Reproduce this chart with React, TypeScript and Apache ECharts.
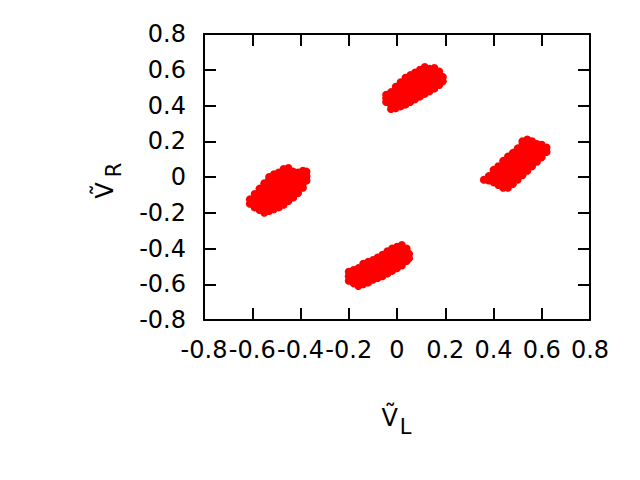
import React, { useEffect, useRef } from "react";
import * as echarts from "echarts";

// Each cluster: columns of [x, [y values]]
const clusterTop: [number, number[]][] = [
  [-0.045, [0.42, 0.44, 0.46]],
  [-0.025, [0.38, 0.405, 0.43, 0.455, 0.475]],
  [-0.005, [0.385, 0.41, 0.435, 0.46, 0.485, 0.505]],
  [0.015, [0.395, 0.42, 0.445, 0.47, 0.495, 0.52, 0.53]],
  [0.035, [0.405, 0.43, 0.455, 0.48, 0.505, 0.53, 0.555]],
  [0.055, [0.42, 0.445, 0.47, 0.495, 0.52, 0.545, 0.57]],
  [0.075, [0.435, 0.46, 0.485, 0.51, 0.535, 0.56, 0.585]],
  [0.095, [0.45, 0.475, 0.5, 0.525, 0.55, 0.575, 0.6]],
  [0.115, [0.465, 0.49, 0.515, 0.54, 0.565, 0.59, 0.615]],
  [0.135, [0.48, 0.505, 0.53, 0.555, 0.58, 0.605]],
  [0.155, [0.495, 0.52, 0.545, 0.57, 0.595, 0.61]],
  [0.175, [0.515, 0.54, 0.565, 0.59]],
  [0.19, [0.535, 0.56]],
];

const clusterRight: [number, number[]][] = [
  [0.36, [-0.015]],
  [0.38, [-0.02, 0.005]],
  [0.4, [-0.03, -0.005, 0.02, 0.04]],
  [0.42, [-0.045, -0.02, 0.005, 0.03, 0.06]],
  [0.44, [-0.06, -0.035, -0.01, 0.015, 0.04, 0.065, 0.09]],
  [0.46, [-0.06, -0.035, -0.01, 0.015, 0.04, 0.065, 0.09, 0.115]],
  [0.48, [-0.04, -0.015, 0.01, 0.035, 0.06, 0.085, 0.11, 0.135]],
  [0.5, [-0.015, 0.01, 0.035, 0.06, 0.085, 0.11, 0.135, 0.16]],
  [0.52, [0.01, 0.035, 0.06, 0.085, 0.11, 0.135, 0.16, 0.185, 0.2]],
  [0.54, [0.035, 0.06, 0.085, 0.11, 0.135, 0.16, 0.185, 0.21]],
  [0.56, [0.06, 0.085, 0.11, 0.135, 0.16, 0.185, 0.2]],
  [0.58, [0.085, 0.11, 0.135, 0.16, 0.185]],
  [0.6, [0.11, 0.135, 0.16, 0.18]],
  [0.62, [0.14, 0.165]],
];

const clusterLeft: [number, number[]][] = [
  [-0.61, [-0.15, -0.125]],
  [-0.59, [-0.17, -0.145, -0.12, -0.095]],
  [-0.57, [-0.185, -0.16, -0.135, -0.11, -0.085, -0.065]],
  [-0.55, [-0.2, -0.175, -0.15, -0.125, -0.1, -0.075, -0.05, -0.035]],
  [-0.53, [-0.19, -0.165, -0.14, -0.115, -0.09, -0.065, -0.04, -0.015, 0.0]],
  [-0.51, [-0.18, -0.155, -0.13, -0.105, -0.08, -0.055, -0.03, -0.005, 0.015]],
  [-0.49, [-0.17, -0.145, -0.12, -0.095, -0.07, -0.045, -0.02, 0.005, 0.025]],
  [-0.47, [-0.155, -0.13, -0.105, -0.08, -0.055, -0.03, -0.005, 0.02, 0.045]],
  [-0.45, [-0.135, -0.11, -0.085, -0.06, -0.035, -0.01, 0.015, 0.04, 0.05]],
  [-0.43, [-0.115, -0.09, -0.065, -0.04, -0.015, 0.01, 0.03]],
  [-0.41, [-0.09, -0.065, -0.04, -0.015, 0.01, 0.025]],
  [-0.39, [-0.06, -0.035, -0.01, 0.015, 0.035]],
  [-0.375, [-0.02, 0.005, 0.03]],
];

const clusterBottom: [number, number[]][] = [
  [-0.2, [-0.58, -0.555, -0.53]],
  [-0.18, [-0.595, -0.57, -0.545, -0.52]],
  [-0.16, [-0.61, -0.585, -0.56, -0.535, -0.51]],
  [-0.14, [-0.6, -0.575, -0.55, -0.525, -0.5, -0.485]],
  [-0.12, [-0.59, -0.565, -0.54, -0.515, -0.49, -0.475]],
  [-0.1, [-0.575, -0.55, -0.525, -0.5, -0.475, -0.465]],
  [-0.08, [-0.565, -0.54, -0.515, -0.49, -0.465, -0.45]],
  [-0.06, [-0.555, -0.53, -0.505, -0.48, -0.455, -0.435]],
  [-0.04, [-0.54, -0.515, -0.49, -0.465, -0.44, -0.415]],
  [-0.02, [-0.525, -0.5, -0.475, -0.45, -0.425, -0.4]],
  [0.0, [-0.51, -0.485, -0.46, -0.435, -0.41, -0.39]],
  [0.02, [-0.495, -0.47, -0.445, -0.42, -0.395, -0.38]],
  [0.04, [-0.47, -0.445, -0.42, -0.4]],
  [0.05, [-0.455, -0.43]],
];

const axisMin = -0.8;
const axisMax = 0.8;
const axisStep = 0.2;

const FONT = "DejaVu Sans";

function toPoints(cols: [number, number[]][]): number[][] {
  const out: number[][] = [];
  cols.forEach(([x, ys]) => ys.forEach((y) => out.push([x, y])));
  return out;
}

function fmt(v: number): string {
  if (Math.abs(v) < 1e-9) return "0";
  return v.toFixed(1);
}

export default function App() {
  const ref = useRef<HTMLDivElement>(null);
  useEffect(() => {
    if (!ref.current) return;
    const chart = echarts.init(ref.current, null, { renderer: "svg" });
    const lineStyle = { color: "#000", width: 2 };
    const tickCommon = { show: true, inside: true, length: 12, lineStyle };
    const data = [
      ...toPoints(clusterTop),
      ...toPoints(clusterRight),
      ...toPoints(clusterLeft),
      ...toPoints(clusterBottom),
    ];
    const axisCommon = {
      type: "value",
      min: axisMin,
      max: axisMax,
      interval: axisStep,
      axisLine: { show: true, onZero: false, lineStyle },
      axisTick: tickCommon,
      splitLine: { show: false },
    };
    const labelStyle = { show: true, formatter: fmt, color: "#000", fontFamily: FONT, fontSize: 24, margin: 18 };
    const txt = (text: string, x: number, y: number, size: number, rot: number) => ({
      type: "text",
      x,
      y,
      rotation: rot,
      style: { text, font: `${size}px '${FONT}'`, fill: "#000", align: "center", verticalAlign: "middle" },
    });
    chart.setOption({
      animation: false,
      backgroundColor: "#fff",
      grid: { left: 204, right: 50, top: 34, bottom: 160, containLabel: false },
      xAxis: [
        { ...axisCommon, position: "bottom", axisLabel: labelStyle },
        { ...axisCommon, position: "top", axisLabel: { show: false } },
      ],
      yAxis: [
        { ...axisCommon, position: "left", axisLabel: labelStyle },
        { ...axisCommon, position: "right", axisLabel: { show: false } },
      ],
      series: [
        {
          type: "scatter",
          xAxisIndex: 0,
          yAxisIndex: 0,
          data,
          symbol: "circle",
          symbolSize: 8,
          itemStyle: { color: "#ff0000", opacity: 1 },
          emphasis: { disabled: true },
        },
      ],
      graphic: [
        // x axis title: V with tilde, subscript L
        txt("\u1E7C", 389.7, 418, 24, 0),
        txt("L", 405.5, 427.2, 21, 0),
        // y axis title: V with tilde, subscript R (rotated)
        txt("\u1E7C", 104.7, 190.5, 24, Math.PI / 2),
        txt("R", 114.2, 170, 21, Math.PI / 2),
      ],
    });
    return () => chart.dispose();
  }, []);
  return <div ref={ref} style={{ width: 640, height: 480, position: "absolute", left: 0, top: 0 }} />;
}
